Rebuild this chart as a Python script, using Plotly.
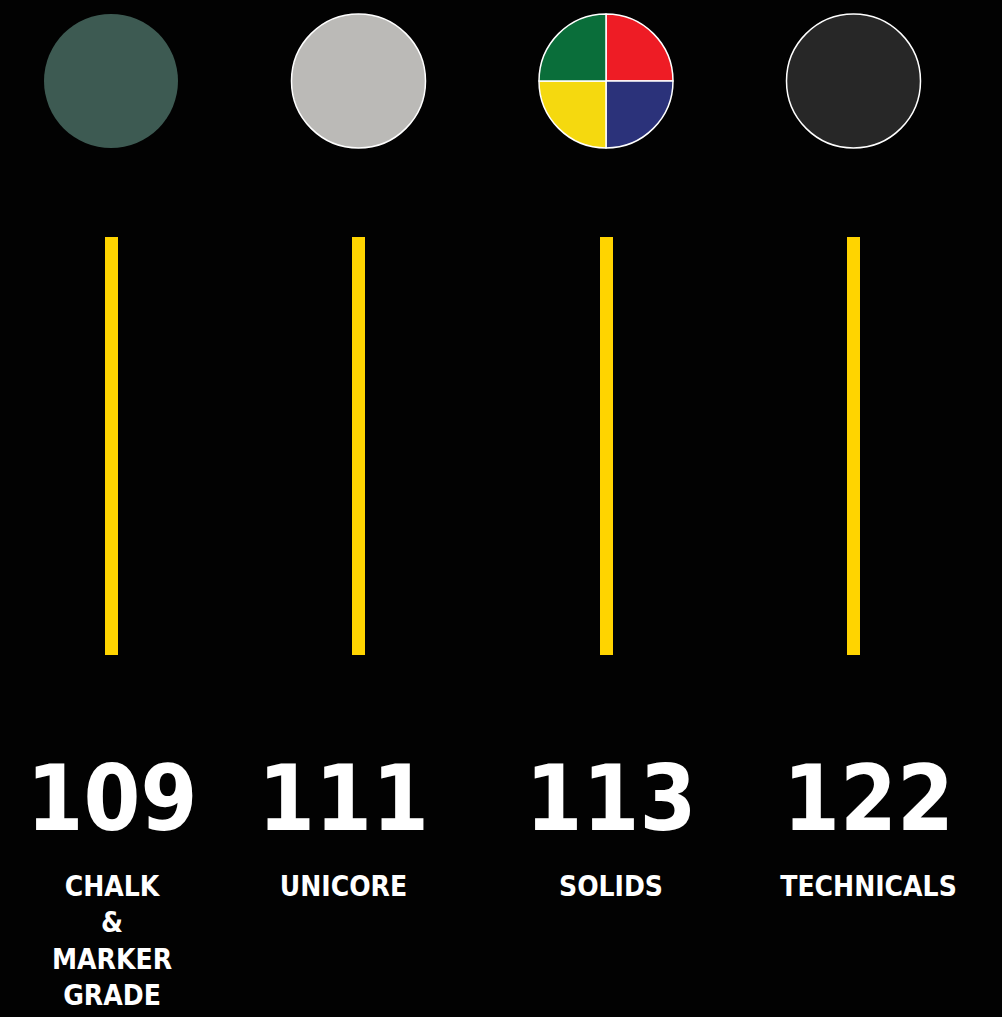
import plotly.graph_objects as go

# ---- data ----
categories = ["CHALK<br>&<br>MARKER<br>GRADE", "UNICORE", "SOLIDS", "TECHNICALS"]
values = [109, 111, 113, 122]
bar_length = [1, 1, 1, 1]  # decorative bars, all the same length in the source
circle_colors = [["#3D5A52"], ["#BBBAB7"], ["#EE1C25", "#2B327A", "#F5D90F", "#0A6E3A"], ["#272727"]]

# ---- layout helpers (pixels) ----
W, H = 1002, 1017
first_px, step_px = 111, 247.5
text_shift_px = [1, -15, 5, 15]
bar_top_px, bar_bot_px = 237, 655
circle_cy, circle_r = 81, 67

def x_of_px(px):
    return (px - first_px) / step_px

def y_of_px(py):
    return (bar_bot_px - py) / (bar_bot_px - bar_top_px)

FONT = "Liberation Sans Narrow, DejaVu Sans Condensed, Arial Narrow, sans-serif"

idx = list(range(len(categories)))
fig = go.Figure()

fig.add_trace(go.Bar(
    x=idx, y=bar_length, width=13 / step_px,
    marker=dict(color="#FFD400", line=dict(width=0)),
    hoverinfo="skip", showlegend=False,
))

text_x = [i + s / step_px for i, s in zip(idx, text_shift_px)]
fig.add_trace(go.Scatter(
    x=text_x, y=[y_of_px(807)] * len(values), mode="text",
    text=[str(v) for v in values],
    textfont=dict(family=FONT, size=91, color="white", weight="bold"),
    textposition="middle center", showlegend=False, hoverinfo="skip",
))
fig.add_trace(go.Scatter(
    x=text_x, y=[y_of_px(875)] * len(values), mode="text",
    text=categories,
    textfont=dict(family=FONT, size=28, color="white", weight="bold"),
    textposition="bottom center", showlegend=False, hoverinfo="skip",
))

for i, cols in enumerate(circle_colors):
    cx = first_px + i * step_px
    outlined = i > 0
    fig.add_trace(go.Pie(
        values=[1] * len(cols), labels=[f"c{i}_{k}" for k in range(len(cols))],
        marker=dict(colors=cols, line=dict(color="white", width=1.5 if outlined else 0)),
        sort=False, direction="clockwise", rotation=0,
        textinfo="none", hoverinfo="skip", showlegend=False,
        domain=dict(x=[(cx - circle_r) / W, (cx + circle_r) / W],
                    y=[1 - (circle_cy + circle_r) / H, 1 - (circle_cy - circle_r) / H]),
    ))

fig.update_layout(
    width=W, height=H,
    margin=dict(l=0, r=0, t=0, b=0),
    paper_bgcolor="#020202", plot_bgcolor="#020202",
    xaxis=dict(range=[x_of_px(0), x_of_px(W)], visible=False, fixedrange=True),
    yaxis=dict(range=[y_of_px(H), y_of_px(0)], visible=False, fixedrange=True),
    bargap=0,
)

fig.write_html(
    "out.html",
    config={"displayModeBar": False},
    post_script="document.body.style.margin='0';document.body.style.background='#020202';",
)
